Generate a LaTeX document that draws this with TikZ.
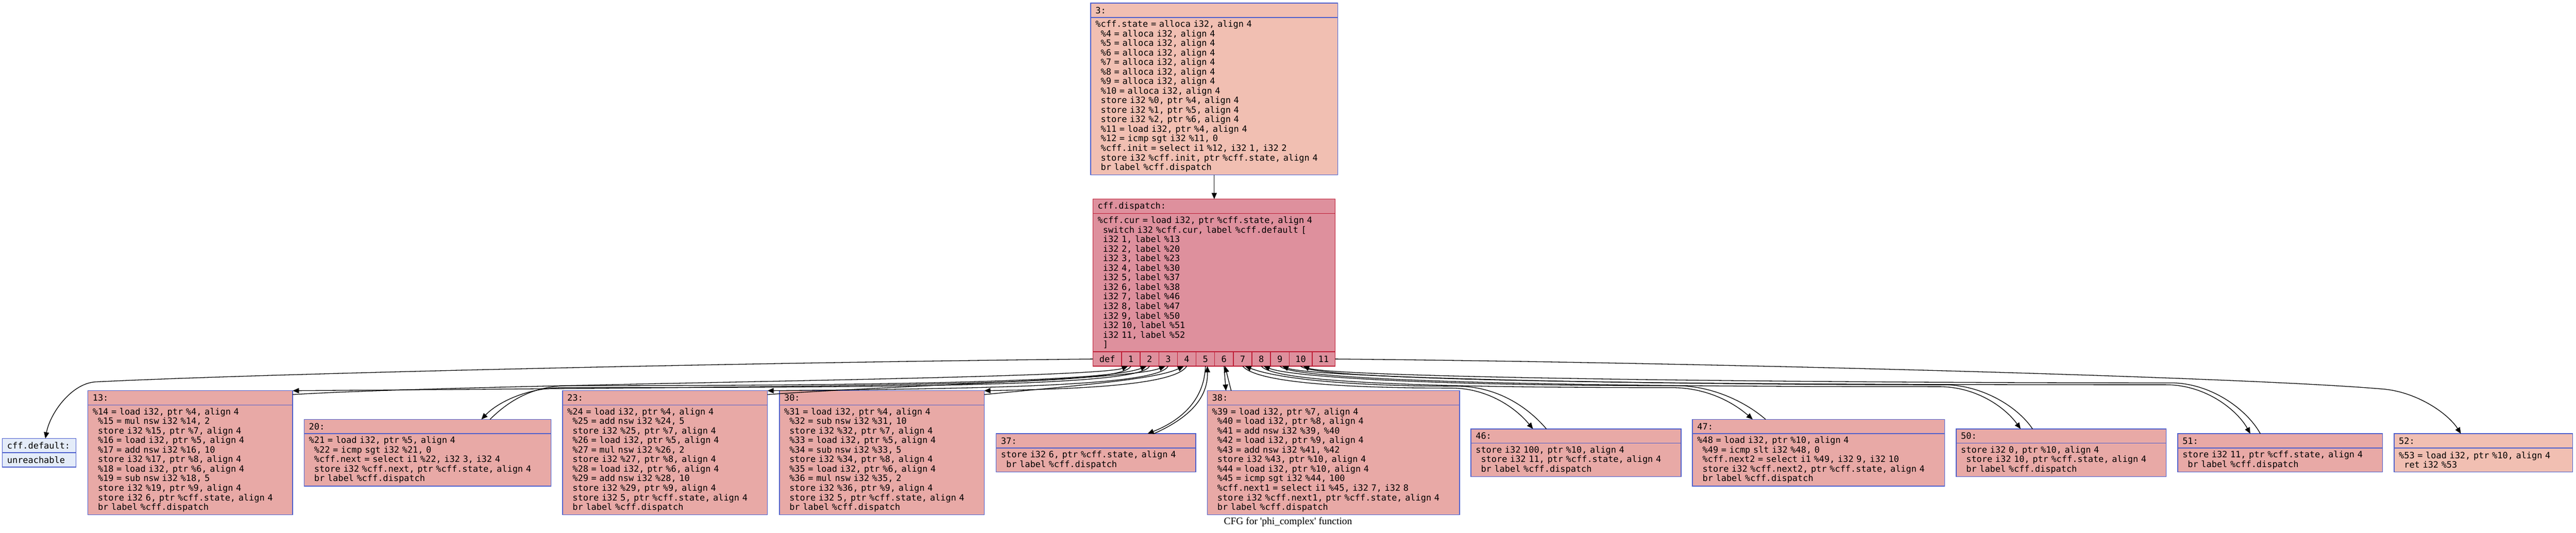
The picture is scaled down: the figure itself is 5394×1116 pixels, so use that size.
\documentclass[tikz,border=0pt]{standalone}
\usepackage{fontspec}
\usepackage{tikz}
\usetikzlibrary{arrows.meta, positioning, calc}
\newfontfamily\cfgmono{DejaVu Sans Mono}
\newfontfamily\capfont{Liberation Serif}[Ligatures=TeXOff]
\newcommand\cfgfont{\cfgmono\fontsize{9.13}{10}\selectfont}
\newcommand\cfgsp{\hphantom{0}}
\definecolor{nodeblue}{RGB}{78,96,205}
\definecolor{dispred}{RGB}{190,30,55}
\definecolor{dispfill}{RGB}{222,144,157}
\definecolor{hotfill}{RGB}{232,169,166}
\definecolor{warmfill}{RGB}{241,191,178}
\definecolor{coldfill}{RGB}{228,236,249}

\begin{document}
\begin{tikzpicture}
  [
    x=0.5pt, y=-0.5pt,
    Head/.style={draw, rectangle, anchor=north west, align=left, font=\cfgfont, inner xsep=5pt, inner ysep=2pt, outer sep=0pt, minimum height=15pt, line width=0.8pt},
    Body/.style={draw, rectangle, align=left, font=\cfgfont, inner xsep=5pt, inner ysep=2pt, outer sep=0pt, line width=0.8pt},
    Rows/.style={minimum height=#1*10pt+5pt},
    Port/.style={draw=dispred, fill=dispfill, rectangle, font=\cfgfont, inner sep=0pt, outer sep=0pt, minimum height=15pt, line width=0.8pt},
    Hot/.style={draw=nodeblue, fill=hotfill},
    Warm/.style={draw=nodeblue, fill=warmfill},
    Cold/.style={draw=nodeblue, fill=coldfill},
    Disp/.style={draw=dispred, fill=dispfill},
    Flow/.style={-{Triangle[length=6.5pt, width=5.5pt]}, line width=0.7pt}
  ]
  \useasboundingbox (0,0) rectangle (5394,1116);
  % Nodes
  \node[Head, Warm, text width=248.5pt] (h3) at (2284,6.5) {3:};
  \node[Body, Warm, text width=248.5pt, Rows=16, below=0pt of h3] (b3) {\%cff.state = alloca i32, align 4\\
    \cfgsp\%4 = alloca i32, align 4\\
    \cfgsp\%5 = alloca i32, align 4\\
    \cfgsp\%6 = alloca i32, align 4\\
    \cfgsp\%7 = alloca i32, align 4\\
    \cfgsp\%8 = alloca i32, align 4\\
    \cfgsp\%9 = alloca i32, align 4\\
    \cfgsp\%10 = alloca i32, align 4\\
    \cfgsp store i32 \%0, ptr \%4, align 4\\
    \cfgsp store i32 \%1, ptr \%5, align 4\\
    \cfgsp store i32 \%2, ptr \%6, align 4\\
    \cfgsp\%11 = load i32, ptr \%4, align 4\\
    \cfgsp\%12 = icmp sgt i32 \%11, 0\\
    \cfgsp\%cff.init = select i1 \%12, i32 1, i32 2\\
    \cfgsp store i32 \%cff.init, ptr \%cff.state, align 4\\
    \cfgsp br label \%cff.dispatch};

  \node[Head, Disp, text width=243.5pt] (hdisp) at (2288.5,417) {cff.dispatch:};
  \node[Body, Disp, text width=243.5pt, Rows=14, below=0pt of hdisp] (bdisp) {\%cff.cur = load i32, ptr \%cff.state, align 4\\
    \cfgsp switch i32 \%cff.cur, label \%cff.default [\\
    \cfgsp i32 1, label \%13\\
    \cfgsp i32 2, label \%20\\
    \cfgsp i32 3, label \%23\\
    \cfgsp i32 4, label \%30\\
    \cfgsp i32 5, label \%37\\
    \cfgsp i32 6, label \%38\\
    \cfgsp i32 7, label \%46\\
    \cfgsp i32 8, label \%47\\
    \cfgsp i32 9, label \%50\\
    \cfgsp i32 10, label \%51\\
    \cfgsp i32 11, label \%52\\
    \cfgsp ]};
  \node[Port, minimum width=30pt, anchor=north west] (pdef) at (bdisp.south west) {def};
  \node[Port, minimum width=19.5pt, right=0pt of pdef] (p1) {1};
  \node[Port, minimum width=19.5pt, right=0pt of p1] (p2) {2};
  \node[Port, minimum width=19.5pt, right=0pt of p2] (p3) {3};
  \node[Port, minimum width=19.5pt, right=0pt of p3] (p4) {4};
  \node[Port, minimum width=19.5pt, right=0pt of p4] (p5) {5};
  \node[Port, minimum width=19.5pt, right=0pt of p5] (p6) {6};
  \node[Port, minimum width=19.5pt, right=0pt of p6] (p7) {7};
  \node[Port, minimum width=19.5pt, right=0pt of p7] (p8) {8};
  \node[Port, minimum width=19.5pt, right=0pt of p8] (p9) {9};
  \node[Port, minimum width=24pt, right=0pt of p9] (p10) {10};
  \node[Port, minimum width=24pt, right=0pt of p10] (p11) {11};

  \node[Head, Cold, text width=67pt] (hdef) at (5,918.5) {cff.default:};
  \node[Body, Cold, text width=67pt, Rows=1, below=0pt of hdef] (bdef) {unreachable};

  \node[Head, Hot, text width=204.5pt] (h13) at (184,818.5) {13:};
  \node[Body, Hot, text width=204.5pt, Rows=11, below=0pt of h13] (b13) {\%14 = load i32, ptr \%4, align 4\\
    \cfgsp\%15 = mul nsw i32 \%14, 2\\
    \cfgsp store i32 \%15, ptr \%7, align 4\\
    \cfgsp\%16 = load i32, ptr \%5, align 4\\
    \cfgsp\%17 = add nsw i32 \%16, 10\\
    \cfgsp store i32 \%17, ptr \%8, align 4\\
    \cfgsp\%18 = load i32, ptr \%6, align 4\\
    \cfgsp\%19 = sub nsw i32 \%18, 5\\
    \cfgsp store i32 \%19, ptr \%9, align 4\\
    \cfgsp store i32 6, ptr \%cff.state, align 4\\
    \cfgsp br label \%cff.dispatch};

  \node[Head, Hot, text width=248.5pt] (h20) at (637,878.5) {20:};
  \node[Body, Hot, text width=248.5pt, Rows=5, below=0pt of h20] (b20) {\%21 = load i32, ptr \%5, align 4\\
    \cfgsp\%22 = icmp sgt i32 \%21, 0\\
    \cfgsp\%cff.next = select i1 \%22, i32 3, i32 4\\
    \cfgsp store i32 \%cff.next, ptr \%cff.state, align 4\\
    \cfgsp br label \%cff.dispatch};

  \node[Head, Hot, text width=204.5pt] (h23) at (1178,818.5) {23:};
  \node[Body, Hot, text width=204.5pt, Rows=11, below=0pt of h23] (b23) {\%24 = load i32, ptr \%4, align 4\\
    \cfgsp\%25 = add nsw i32 \%24, 5\\
    \cfgsp store i32 \%25, ptr \%7, align 4\\
    \cfgsp\%26 = load i32, ptr \%5, align 4\\
    \cfgsp\%27 = mul nsw i32 \%26, 2\\
    \cfgsp store i32 \%27, ptr \%8, align 4\\
    \cfgsp\%28 = load i32, ptr \%6, align 4\\
    \cfgsp\%29 = add nsw i32 \%28, 10\\
    \cfgsp store i32 \%29, ptr \%9, align 4\\
    \cfgsp store i32 5, ptr \%cff.state, align 4\\
    \cfgsp br label \%cff.dispatch};

  \node[Head, Hot, text width=204.5pt] (h30) at (1632,818.5) {30:};
  \node[Body, Hot, text width=204.5pt, Rows=11, below=0pt of h30] (b30) {\%31 = load i32, ptr \%4, align 4\\
    \cfgsp\%32 = sub nsw i32 \%31, 10\\
    \cfgsp store i32 \%32, ptr \%7, align 4\\
    \cfgsp\%33 = load i32, ptr \%5, align 4\\
    \cfgsp\%34 = sub nsw i32 \%33, 5\\
    \cfgsp store i32 \%34, ptr \%8, align 4\\
    \cfgsp\%35 = load i32, ptr \%6, align 4\\
    \cfgsp\%36 = mul nsw i32 \%35, 2\\
    \cfgsp store i32 \%36, ptr \%9, align 4\\
    \cfgsp store i32 5, ptr \%cff.state, align 4\\
    \cfgsp br label \%cff.dispatch};

  \node[Head, Hot, text width=199pt] (h37) at (2086,908.5) {37:};
  \node[Body, Hot, text width=199pt, Rows=2, below=0pt of h37] (b37) {store i32 6, ptr \%cff.state, align 4\\
    \cfgsp br label \%cff.dispatch};

  \node[Head, Hot, text width=254pt] (h38) at (2528,818.5) {38:};
  \node[Body, Hot, text width=254pt, Rows=11, below=0pt of h38] (b38) {\%39 = load i32, ptr \%7, align 4\\
    \cfgsp\%40 = load i32, ptr \%8, align 4\\
    \cfgsp\%41 = add nsw i32 \%39, \%40\\
    \cfgsp\%42 = load i32, ptr \%9, align 4\\
    \cfgsp\%43 = add nsw i32 \%41, \%42\\
    \cfgsp store i32 \%43, ptr \%10, align 4\\
    \cfgsp\%44 = load i32, ptr \%10, align 4\\
    \cfgsp\%45 = icmp sgt i32 \%44, 100\\
    \cfgsp\%cff.next1 = select i1 \%45, i32 7, i32 8\\
    \cfgsp store i32 \%cff.next1, ptr \%cff.state, align 4\\
    \cfgsp br label \%cff.dispatch};

  \node[Head, Hot, text width=210pt] (h46) at (3080,898.5) {46:};
  \node[Body, Hot, text width=210pt, Rows=3, below=0pt of h46] (b46) {store i32 100, ptr \%10, align 4\\
    \cfgsp store i32 11, ptr \%cff.state, align 4\\
    \cfgsp br label \%cff.dispatch};

  \node[Head, Hot, text width=254pt] (h47) at (3544,878.5) {47:};
  \node[Body, Hot, text width=254pt, Rows=5, below=0pt of h47] (b47) {\%48 = load i32, ptr \%10, align 4\\
    \cfgsp\%49 = icmp slt i32 \%48, 0\\
    \cfgsp\%cff.next2 = select i1 \%49, i32 9, i32 10\\
    \cfgsp store i32 \%cff.next2, ptr \%cff.state, align 4\\
    \cfgsp br label \%cff.dispatch};

  \node[Head, Hot, text width=210pt] (h50) at (4096,898.5) {50:};
  \node[Body, Hot, text width=210pt, Rows=3, below=0pt of h50] (b50) {store i32 0, ptr \%10, align 4\\
    \cfgsp store i32 10, ptr \%cff.state, align 4\\
    \cfgsp br label \%cff.dispatch};

  \node[Head, Hot, text width=204.5pt] (h51) at (4560,908.5) {51:};
  \node[Body, Hot, text width=204.5pt, Rows=2, below=0pt of h51] (b51) {store i32 11, ptr \%cff.state, align 4\\
    \cfgsp br label \%cff.dispatch};

  \node[Head, Warm, text width=177pt] (h52) at (5013,908.5) {52:};
  \node[Body, Warm, text width=177pt, Rows=2, below=0pt of h52] (b52) {\%53 = load i32, ptr \%10, align 4\\
    \cfgsp ret i32 \%53};

  \node[font=\capfont\fontsize{10.5}{12}\selectfont] (cap) at (2697,1094) {CFG for 'phi\_complex' function};

  % Lines
  \draw[Flow] (b3.south) -- (b3.south |- hdisp.north);
  \draw[Flow] (pdef.west) .. controls (1400,762) and (500,785) .. (200,800) .. controls (150,803) and (105,865) .. ($(hdef.north west)+(90,0)$);
  \draw[Flow] (p1.south) .. controls (2350,805) and (2000,808) .. (h13.north east);
  \draw[Flow] ($(h13.north east)+(0,8)$) .. controls (1000,803) and (2290,795) .. ($(p1.south)+(-6,0)$);
  \draw[Flow] (p2.south) .. controls (2390,805) and (2000,812) .. (1180,812) .. controls (1100,812) and (1040,845) .. ($(h20.north west)+(371,0)$);
  \draw[Flow] ($(h20.north west)+(389,0)$) .. controls (1060,845) and (1110,808) .. (1190,808) .. controls (2000,808) and (2330,795) .. ($(p2.south)+(-6,0)$);
  \draw[Flow] (p3.south) .. controls (2425,807) and (2100,814) .. (h23.north east);
  \draw[Flow] ($(h23.north east)+(0,8)$) .. controls (1900,806) and (2370,795) .. ($(p3.south)+(-6,0)$);
  \draw[Flow] (p4.south) .. controls (2460,808) and (2250,815) .. (h30.north east);
  \draw[Flow] ($(h30.north east)+(0,8)$) .. controls (2250,808) and (2420,795) .. ($(p4.south)+(-6,0)$);
  \draw[Flow] (p5.south) .. controls (2522,840) and (2470,882) .. ($(h37.north west)+(317,0)$);
  \draw[Flow] ($(h37.north west)+(330,0)$) .. controls (2480,880) and (2530,840) .. ($(p5.south)+(4,0)$);
  \draw[Flow] (p6.south) -- ($(h38.north west)+(39,0)$);
  \draw[Flow] ($(h38.north west)+(50,0)$) -- ($(p6.south)+(2,0)$);
  \draw[Flow] (p7.south) .. controls (2630,800) and (2800,813) .. (3040,813) .. controls (3110,813) and (3170,850) .. ($(h46.north west)+(130,0)$);
  \draw[Flow] ($(h46.north west)+(158,0)$) .. controls (3195,848) and (3130,809) .. (3050,809) .. controls (2800,809) and (2665,790) .. ($(p7.south)+(5,0)$);
  \draw[Flow] (p8.south) .. controls (2670,802) and (3000,812) .. (3500,812) .. controls (3580,812) and (3635,848) .. ($(h47.north west)+(126,0)$);
  \draw[Flow] ($(h47.north west)+(153,0)$) .. controls (3660,846) and (3590,808) .. (3510,808) .. controls (3000,808) and (2705,790) .. ($(p8.south)+(5,0)$);
  \draw[Flow] (p9.south) .. controls (2710,802) and (3400,810) .. (4060,810) .. controls (4140,810) and (4200,855) .. ($(h50.north west)+(135,0)$);
  \draw[Flow] ($(h50.north west)+(160,0)$) .. controls (4225,852) and (4150,806) .. (4070,806) .. controls (3400,806) and (2745,790) .. ($(p9.south)+(5,0)$);
  \draw[Flow] (p10.south) .. controls (2755,802) and (3700,806) .. (4535,806) .. controls (4620,806) and (4685,860) .. ($(h51.north west)+(152,0)$);
  \draw[Flow] ($(h51.north west)+(173,0)$) .. controls (4705,858) and (4630,802) .. (4545,802) .. controls (3700,802) and (2790,790) .. ($(p10.south)+(5,0)$);
  \draw[Flow] (p11.east) .. controls (3600,760) and (4700,790) .. (4990,815) .. controls (5060,821) and (5125,865) .. ($(h52.north west)+(140,0)$);
\end{tikzpicture}
\end{document}
